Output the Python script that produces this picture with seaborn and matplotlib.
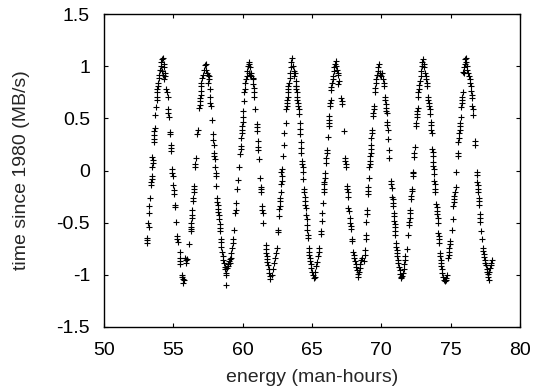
import matplotlib
matplotlib.use('Agg')
import matplotlib.pyplot as plt
import seaborn as sns
import pandas as pd
from matplotlib.ticker import FuncFormatter

# Points, one list pair per wave (rise, peak, fall, trough)
w1_x = [53.11, 53.11, 53.11, 53.18, 53.21, 53.23, 53.25, 53.30, 53.42, 53.42, 53.44, 53.47,
        53.49, 53.51, 53.54, 53.49, 53.61, 53.61, 53.63, 53.63, 53.66, 53.70, 53.77,
        53.80, 53.80, 53.84, 53.84, 53.87, 53.89,
        53.94, 53.96, 54.03, 54.08, 54.13, 54.17, 54.25, 54.29, 54.34, 54.39, 54.41, 54.36, 54.20, 54.25,
        54.48, 54.55, 54.60, 54.60, 54.65, 54.67, 54.76, 54.79, 54.81, 54.83, 54.86,
        54.91, 54.93, 54.95, 55.00, 55.02, 55.07, 55.09, 55.12, 55.17, 55.24, 55.26, 55.31,
        55.45, 55.47, 55.50, 55.47, 55.59, 55.64, 55.68, 55.78, 55.73,
        55.85, 55.90, 55.94, 56.01, 56.13]
w1_y = [-0.65, -0.67, -0.70, -0.50, -0.54, -0.41, -0.34, -0.26, -0.14, -0.11, -0.08, -0.05,
        0.035, 0.07, 0.10, 0.13, 0.27, 0.30, 0.34, 0.38, 0.41, 0.53, 0.61,
        0.68, 0.71, 0.75, 0.78, 0.81, 0.84,
        0.89, 0.92, 0.97, 1.00, 1.04, 1.07, 1.08, 1.02, 0.99, 0.94, 0.91, 0.88, 0.96, 0.92,
        0.78, 0.75, 0.71, 0.59, 0.55, 0.51, 0.37, 0.35, 0.25, 0.22, 0.19,
        0.01, -0.02, -0.05, -0.14, -0.19, -0.23, -0.33, -0.35, -0.49, -0.63, -0.66, -0.69,
        -0.78, -0.84, -0.87, -0.90, -1.00, -1.02, -1.04, -1.05, -1.08,
        -0.84, -0.86, -0.89, -0.85, -0.71]

w2_x = [56.25, 56.27, 56.30, 56.30, 56.32, 56.34, 56.37, 56.39, 56.42, 56.46, 56.49, 56.51,
        56.53, 56.56, 56.63, 56.72, 56.75, 56.86, 56.89, 56.91, 56.91, 56.96, 56.98, 57.00,
        57.03, 57.08, 57.12, 57.19, 57.26, 57.33, 57.38, 57.43, 57.48, 57.55, 57.57, 57.52,
        57.62, 57.67, 57.67, 57.69, 57.78, 57.85, 57.88, 57.90, 57.92, 57.95, 57.97,
        58.02, 58.07, 58.07, 58.11, 58.16, 58.18, 58.21, 58.23, 58.25, 58.28, 58.30, 58.33,
        58.37, 58.40, 58.42, 58.44, 58.47, 58.51, 58.56, 58.61,
        58.68, 58.70, 58.73, 58.77, 58.82, 58.87, 58.92, 58.96, 59.01, 59.06, 58.80]
w2_y = [-0.50, -0.54, -0.56, -0.58, -0.38, -0.43, -0.46, -0.29, -0.26, -0.21, -0.18, -0.15,
        0.03, 0.06, 0.12, 0.35, 0.39, 0.60, 0.63, 0.67, 0.70, 0.73, 0.76, 0.81,
        0.84, 0.89, 0.92, 0.97, 1.01, 1.02, 0.97, 0.94, 0.92, 0.91, 0.88, 0.84,
        0.78, 0.71, 0.65, 0.62, 0.49, 0.35, 0.29, 0.25, 0.17, 0.14, 0.11,
        0.03, -0.02, -0.05, -0.15, -0.26, -0.30, -0.33, -0.37, -0.40, -0.43, -0.47, -0.51,
        -0.55, -0.58, -0.66, -0.69, -0.73, -0.78, -0.82, -0.86,
        -0.89, -0.93, -0.95, -0.98, -1.00, -0.94, -0.92, -0.90, -0.87, -0.85, -1.10]

w3_x = [59.10, 59.14, 59.19, 59.24, 59.29, 59.33, 59.40, 59.48, 59.50, 59.52, 59.62, 59.67,
        59.76, 59.83, 59.86, 59.88, 59.90, 59.93, 59.95, 59.98, 60.00, 60.02, 60.05, 60.07,
        60.12, 60.14,
        60.19, 60.24, 60.29, 60.33, 60.38, 60.43, 60.48, 60.52, 60.57, 60.62, 60.71, 60.76, 60.43, 60.52,
        60.76, 60.79, 60.81, 60.83, 60.90, 61.00, 61.02, 61.05, 61.10, 61.12, 61.14, 61.17,
        61.24, 61.29, 61.31, 61.33, 61.38, 61.40, 61.43, 61.50,
        61.67, 61.69, 61.71, 61.74, 61.76, 61.79, 61.83, 61.88, 61.90, 61.95, 62.00,
        62.10, 62.17, 62.26, 62.33, 62.40, 62.45]
w3_y = [-0.89, -0.84, -0.79, -0.74, -0.70, -0.66, -0.57, -0.41, -0.38, -0.31, -0.18, -0.09,
        0.035, 0.16, 0.21, 0.24, 0.31, 0.36, 0.39, 0.43, 0.47, 0.51, 0.57, 0.67,
        0.75, 0.78,
        0.84, 0.88, 0.91, 0.96, 1.00, 1.04, 1.02, 0.99, 0.94, 0.91, 0.89, 0.88, 0.94, 0.92,
        0.83, 0.79, 0.75, 0.71, 0.59, 0.45, 0.42, 0.38, 0.28, 0.23, 0.20, 0.11,
        -0.07, -0.16, -0.18, -0.21, -0.34, -0.38, -0.41, -0.50,
        -0.72, -0.75, -0.79, -0.82, -0.85, -0.88, -0.91, -0.95, -0.98, -1.01, -1.04,
        -1.00, -0.95, -0.89, -0.84, -0.79, -0.74]

w4_x = [62.55, 62.57, 62.62, 62.64, 62.67, 62.69, 62.71, 62.74, 62.76, 62.81, 62.81, 62.79, 62.81,
        62.90, 62.95, 63.00, 63.10, 63.14, 63.17, 63.19, 63.21, 63.24, 63.26, 63.26, 63.29,
        63.33, 63.38, 63.43, 63.48, 63.52, 63.57, 63.62, 63.67, 63.71, 63.76, 63.81, 63.81,
        63.86, 63.88, 63.90, 63.93, 63.95, 63.98, 64.00, 64.05, 64.07, 64.10, 64.12, 64.14,
        64.17, 64.19, 64.21, 64.29, 64.31, 64.33, 64.36, 64.38,
        64.43, 64.45, 64.48, 64.50, 64.52, 64.55, 64.60, 64.62, 64.64, 64.67, 64.71, 64.74,
        64.76, 64.79, 64.81, 64.83, 64.88, 64.93, 64.95, 65.00, 65.05, 65.12, 65.19,
        65.24, 65.29, 65.36, 65.43, 65.48, 65.52]
w4_y = [-0.57, -0.59, -0.44, -0.37, -0.34, -0.29, -0.26, -0.21, -0.13, -0.10, -0.05, -0.01, 0.01,
        0.14, 0.25, 0.36, 0.46, 0.59, 0.62, 0.65, 0.68, 0.71, 0.75, 0.78, 0.81,
        0.84, 0.89, 0.94, 0.99, 1.04, 1.08, 1.00, 0.96, 0.91, 0.94, 0.86, 0.81,
        0.81, 0.78, 0.75, 0.71, 0.68, 0.65, 0.62, 0.59, 0.54, 0.46, 0.40, 0.35,
        0.27, 0.22, 0.17, 0.09, 0.06, 0.03, -0.01, -0.08,
        -0.18, -0.21, -0.25, -0.29, -0.33, -0.36, -0.43, -0.47, -0.52, -0.57, -0.62, -0.65,
        -0.74, -0.78, -0.81, -0.84, -0.87, -0.90, -0.94, -0.97, -1.00, -1.03, -1.02,
        -0.97, -0.92, -0.88, -0.82, -0.78, -0.74]

w5_x = [65.62, 65.64, 65.71, 65.74, 65.79, 65.83, 65.86, 65.88, 65.90, 65.93, 65.95,
        66.00, 66.02, 66.05, 66.07, 66.12, 66.19, 66.21, 66.24, 66.26, 66.31, 66.33, 66.36,
        66.38, 66.40, 66.43, 66.48, 66.52, 66.57, 66.62, 66.67, 66.71, 66.76, 66.81, 66.86,
        66.90, 66.95, 66.90,
        67.10, 67.14, 67.19, 67.29, 67.38, 67.40, 67.43, 67.43, 67.52, 67.55, 67.57, 67.60,
        67.62, 67.67, 67.74, 67.76, 67.81, 67.83, 67.86, 67.90,
        67.95, 68.00, 68.05, 68.10, 68.14, 68.19, 68.24, 68.29, 68.33, 68.38, 68.43, 68.48,
        68.52, 68.57]
w5_y = [-0.58, -0.61, -0.48, -0.41, -0.31, -0.21, -0.18, -0.13, -0.11, -0.07, -0.02,
        0.07, 0.12, 0.17, 0.20, 0.32, 0.43, 0.46, 0.49, 0.52, 0.62, 0.65, 0.68,
        0.77, 0.80, 0.84, 0.88, 0.91, 0.96, 0.99, 1.02, 1.05, 1.00, 0.97, 0.94,
        0.92, 0.86, 0.83,
        0.70, 0.67, 0.64, 0.38, 0.12, 0.09, 0.06, 0.03, -0.15, -0.18, -0.21, -0.25,
        -0.36, -0.39, -0.46, -0.50, -0.53, -0.56, -0.66, -0.68,
        -0.78, -0.81, -0.84, -0.87, -0.90, -0.93, -0.96, -0.99, -1.02, -0.97, -0.94, -0.90,
        -0.86, -0.84]

w6_x = [68.74, 68.79, 68.81, 68.86, 68.88, 68.90, 68.93, 68.95, 69.02, 69.05, 69.07, 69.10,
        69.14, 69.17, 69.19, 69.21, 69.24, 69.26, 69.26, 69.29, 69.31, 69.33,
        69.40, 69.43, 69.45, 69.48,
        69.55, 69.57, 69.62, 69.64, 69.69, 69.74, 69.79, 69.83, 69.88, 69.93, 69.98, 70.05,
        70.12, 70.17, 70.21,
        70.24, 70.29, 70.31, 70.33, 70.36, 70.40, 70.40, 70.43, 70.45, 70.48, 70.55, 70.57,
        70.69, 70.71, 70.74, 70.79, 70.81, 70.83, 70.86, 70.88, 70.90, 70.93, 70.95, 70.98,
        71.00, 71.02, 71.05, 71.07, 71.10, 71.12, 71.14, 71.17, 71.21, 71.26, 71.31, 71.36,
        71.40, 71.45, 71.50, 71.55, 71.60, 71.64, 71.69, 71.74]
w6_y = [-0.87, -0.81, -0.76, -0.66, -0.62, -0.49, -0.42, -0.38, -0.23, -0.20, -0.16, -0.07,
        0.03, 0.06, 0.09, 0.14, 0.17, 0.21, 0.25, 0.31, 0.36, 0.39,
        0.52, 0.55, 0.59, 0.62,
        0.75, 0.79, 0.84, 0.88, 0.92, 0.96, 0.99, 1.02, 0.94, 0.92, 0.91, 0.94,
        0.88, 0.84, 0.81,
        0.71, 0.68, 0.64, 0.60, 0.57, 0.55, 0.47, 0.44, 0.39, 0.30, 0.20, 0.12,
        -0.10, -0.13, -0.17, -0.25, -0.27, -0.31, -0.34, -0.41, -0.44, -0.48, -0.51, -0.54,
        -0.58, -0.62, -0.70, -0.73, -0.76, -0.79, -0.82, -0.86, -0.89, -0.93, -0.96, -0.99,
        -1.02, -1.03, -1.01, -0.98, -0.95, -0.90, -0.86, -0.82]

w7_x = [71.83, 71.95, 72.00, 72.02, 72.05, 72.07, 72.10, 72.14, 72.17, 72.19, 72.24,
        72.26, 72.29, 72.31, 72.36, 72.38, 72.40, 72.50, 72.52, 72.55, 72.57, 72.60, 72.62,
        72.64, 72.67, 72.69, 72.71,
        72.79, 72.83, 72.88, 72.90, 72.95, 73.00, 73.05, 73.10, 73.14, 73.19, 73.24, 73.26, 73.31,
        73.38, 73.40, 73.43, 73.45, 73.50, 73.52, 73.55, 73.57, 73.60, 73.62,
        73.67, 73.69, 73.71, 73.74, 73.76, 73.79, 73.81, 73.83, 73.86, 73.88, 73.90,
        73.95, 73.98, 74.00, 74.02, 74.05, 74.07, 74.12, 74.14, 74.17, 74.19,
        74.24, 74.26, 74.29, 74.31, 74.33, 74.36, 74.40, 74.45, 74.50, 74.57, 74.64, 74.69, 74.74]
w7_y = [-0.75, -0.62, -0.52, -0.49, -0.46, -0.41, -0.38, -0.27, -0.24, -0.20, -0.18,
        -0.02, -0.05, -0.01, 0.13, 0.17, 0.23, 0.43, 0.46, 0.51, 0.54, 0.57, 0.60,
        0.71, 0.75, 0.78, 0.82,
        0.86, 0.91, 0.96, 1.00, 1.04, 1.07, 1.02, 0.99, 0.94, 0.91, 0.88, 0.84, 0.81,
        0.71, 0.68, 0.65, 0.62, 0.59, 0.54, 0.47, 0.44, 0.39, 0.36,
        0.21, 0.18, 0.14, 0.08, 0.04, 0.01, -0.03, -0.10, -0.13, -0.18, -0.21,
        -0.32, -0.35, -0.39, -0.42, -0.46, -0.50, -0.60, -0.63, -0.66, -0.70,
        -0.79, -0.82, -0.86, -0.89, -0.92, -0.95, -0.98, -1.02, -1.05, -1.06, -1.05, -1.03, -1.00]

w8_x = [74.83, 74.86, 74.88, 74.90, 74.93, 74.95, 75.07, 75.14, 75.19, 75.21, 75.24, 75.26,
        75.29, 75.36, 75.40, 75.50, 75.52, 75.55, 75.60, 75.62, 75.64, 75.67, 75.69, 75.71,
        75.76, 75.79, 75.81, 75.83, 75.86,
        75.88, 75.93, 76.00, 76.07, 76.12, 76.17, 76.21, 76.26, 76.31, 76.36, 76.40, 76.45,
        76.02, 75.95,
        76.50, 76.52, 76.55, 76.57, 76.60, 76.64, 76.76, 76.79, 76.88, 76.90,
        76.93, 76.95, 76.98, 77.00, 77.02, 77.05, 77.07, 77.10, 77.12, 77.14, 77.19, 77.24,
        77.31, 77.36, 77.38, 77.40, 77.45, 77.50, 77.55, 77.60, 77.64, 77.67, 77.71, 77.74,
        77.79, 77.83, 77.88, 77.93, 77.98]
w8_y = [-0.84, -0.81, -0.78, -0.74, -0.71, -0.68, -0.57, -0.47, -0.34, -0.30, -0.27, -0.24,
        -0.21, -0.16, -0.01, 0.14, 0.17, 0.27, 0.31, 0.36, 0.39, 0.43, 0.46, 0.51,
        0.61, 0.65, 0.68, 0.71, 0.75,
        0.95, 0.99, 1.07, 1.08, 1.04, 1.00, 0.97, 0.94, 0.91, 0.88, 0.84, 0.81,
        1.02, 0.94,
        0.76, 0.73, 0.70, 0.62, 0.59, 0.53, 0.28, 0.25, -0.01, -0.04,
        -0.11, -0.14, -0.18, -0.21, -0.26, -0.29, -0.33, -0.42, -0.46, -0.49, -0.58, -0.66,
        -0.74, -0.77, -0.80, -0.83, -0.86, -0.89, -0.91, -0.95, -0.97, -0.99, -1.02, -1.05,
        -0.97, -0.94, -0.91, -0.89, -0.86]

x_ticks = [50, 55, 60, 65, 70, 75, 80]
y_ticks = [-1.5, -1, -0.5, 0, 0.5, 1, 1.5]

energy = w1_x + w2_x + w3_x + w4_x + w5_x + w6_x + w7_x + w8_x
rate = w1_y + w2_y + w3_y + w4_y + w5_y + w6_y + w7_y + w8_y
df = pd.DataFrame({'energy': energy, 'rate': rate})

sns.set_style('ticks')
plt.rcParams['font.family'] = ['Liberation Sans', 'DejaVu Sans']
plt.rcParams['axes.unicode_minus'] = False

fig = plt.figure(figsize=(5.46, 3.91), dpi=100)
ax = fig.add_axes([0.1905, 0.1645, 0.7619, 0.7987])
sns.scatterplot(data=df, x='energy', y='rate', marker='+', color='black',
                s=24, linewidth=0.8, ax=ax)

ax.set_xlim(50, 80)
ax.set_ylim(-1.5, 1.5)
ax.set_xticks(x_ticks)
ax.set_yticks(y_ticks)
ax.xaxis.set_major_formatter(FuncFormatter(lambda v, p: '%g' % v))
ax.yaxis.set_major_formatter(FuncFormatter(lambda v, p: '%g' % v))
ax.tick_params(direction='in', top=True, right=True, length=3.2, width=0.8,
               labelsize=14, colors='black')
ax.tick_params(axis='y', pad=10)
ax.tick_params(axis='x', pad=11)
ax.set_xlabel('energy (man-hours)', fontsize=14)
ax.set_ylabel('time since 1980 (MB/s)', fontsize=14)
ax.xaxis.set_label_coords(0.5, -0.135)
ax.yaxis.set_label_coords(-0.178, 0.5)
for s in ax.spines.values():
    s.set_linewidth(1)
    s.set_color('black')

fig.savefig('out.png', dpi=100)
